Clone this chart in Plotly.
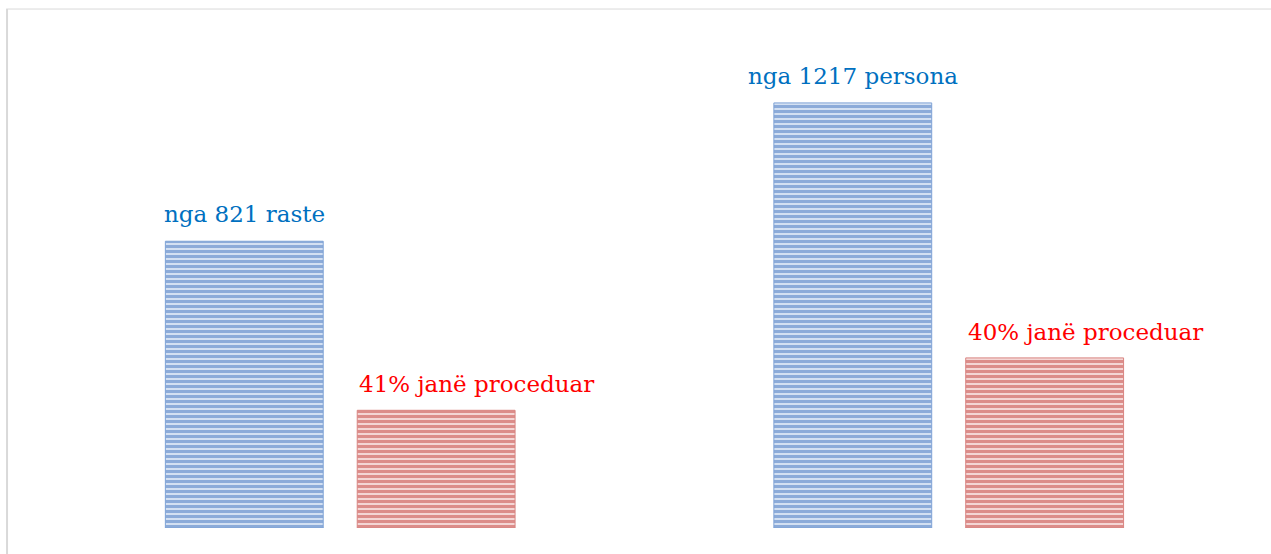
import plotly.graph_objects as go

groups = [0, 1]
totals = [821, 1217]
proceduar = [337, 487]
total_labels = ["nga 821 raste", "nga 1217 persona"]
proc_labels = ["41% janë proceduar", "40% janë proceduar"]

BAR_W = 0.2594
BLUE_OFF = -0.2874
RED_OFF = 0.0279

fig = go.Figure()
fig.add_trace(go.Bar(
    x=groups, y=totals, width=BAR_W, offset=BLUE_OFF,
    marker=dict(color="#d3e0f2",
                pattern=dict(shape="-", fgcolor="#4576bf", bgcolor="#d3e0f2", size=5, solidity=0.6),
                line=dict(color="#7fa3d6", width=1)),
    hoverinfo="skip", showlegend=False))
fig.add_trace(go.Bar(
    x=groups, y=proceduar, width=BAR_W, offset=RED_OFF,
    marker=dict(color="#f4d6d5",
                pattern=dict(shape="-", fgcolor="#c4443f", bgcolor="#f4d6d5", size=5, solidity=0.6),
                line=dict(color="#d98582", width=1)),
    hoverinfo="skip", showlegend=False))

font_family = "DejaVu Serif"
for g, v, t in zip(groups, totals, total_labels):
    fig.add_annotation(x=g + BLUE_OFF + BAR_W / 2, y=v, text=t, showarrow=False,
                       xanchor="center", yanchor="bottom", yshift=12,
                       font=dict(family=font_family, size=23, color="#0070c0"))
for g, v, t in zip(groups, proceduar, proc_labels):
    fig.add_annotation(x=g + RED_OFF, y=v, text=t, showarrow=False,
                       xanchor="left", yanchor="bottom", yshift=11, xshift=0,
                       font=dict(family=font_family, size=23, color="#ff0000"))

# outer border (left/top visible)
fig.add_shape(type="line", xref="paper", yref="paper", x0=-0.0238, x1=-0.0238, y0=-0.2, y1=1.0613,
              line=dict(color="#d9d9d9", width=2))
fig.add_shape(type="line", xref="paper", yref="paper", x0=-0.0245, x1=1.2, y0=1.0613, y1=1.0613,
              line=dict(color="#d9d9d9", width=1))

fig.update_layout(
    width=1271, height=554,
    margin=dict(l=35.5, r=17.5, t=39, b=26),
    paper_bgcolor="white", plot_bgcolor="white",
    xaxis=dict(range=[-0.5, 1.5], visible=False),
    yaxis=dict(range=[0, 1400], visible=False),
)
fig.write_html("out.html", config={"displayModeBar": False},
               post_script="document.body.style.margin='0';")
